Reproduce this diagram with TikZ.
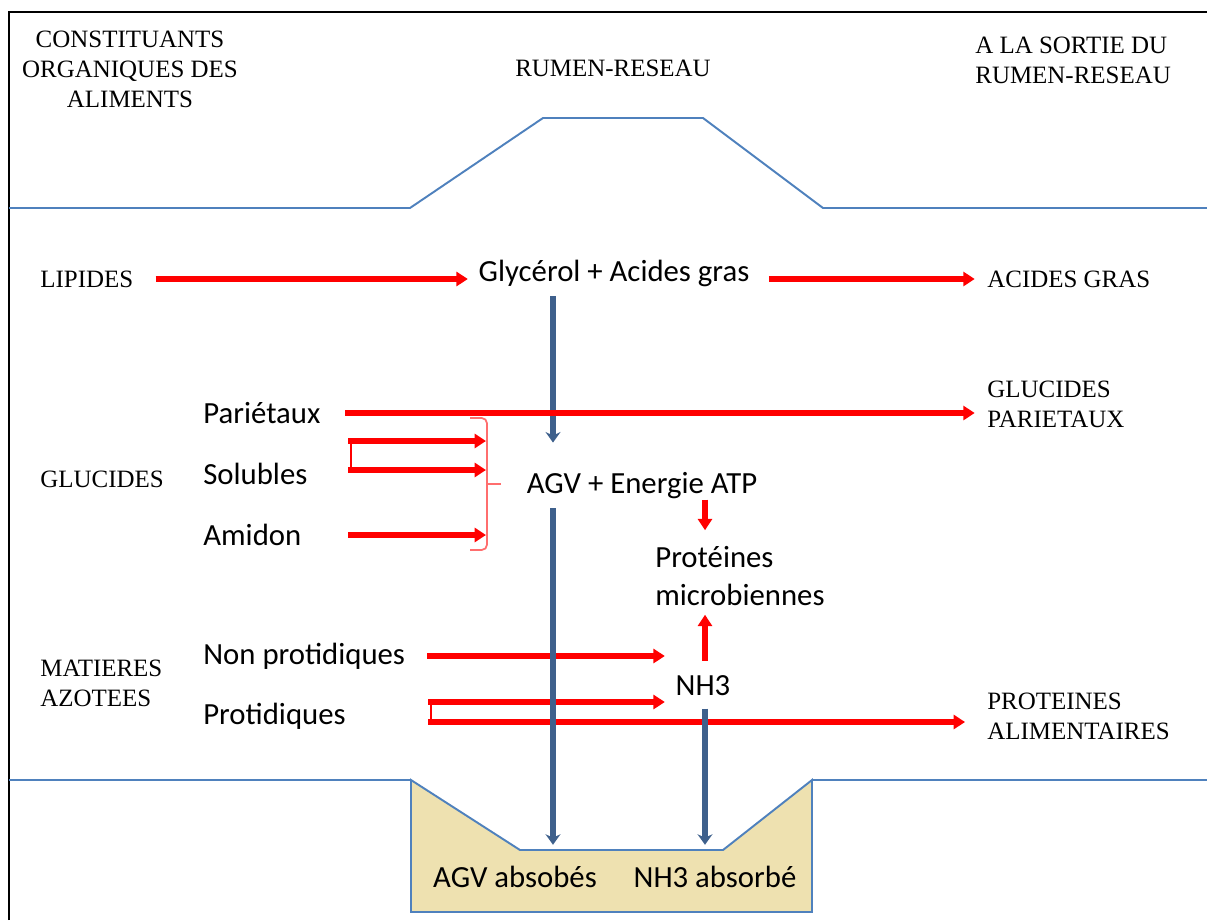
\documentclass[tikz,border=0pt]{standalone}
\usepackage{fontspec}
\setmainfont{Liberation Serif}
\newfontfamily\calib{Carlito}
\usetikzlibrary{arrows.meta}
\definecolor{bordbleu}{RGB}{79,129,189}
\definecolor{flecbleu}{RGB}{62,96,140}
\definecolor{sable}{RGB}{238,225,176}
\definecolor{accol}{RGB}{255,110,110}
\begin{document}
\begin{tikzpicture}[x=0.02cm,y=-0.02cm,
	maj/.style={font=\fontsize{14.2}{17}\selectfont,inner sep=0pt,align=left},
	txt/.style={font=\calib\fontsize{17.5}{21.5}\selectfont,inner sep=0pt,align=left},
	rouge/.style={red,line width=3pt,-{Triangle[length=6.5pt,width=8pt]}},
	bleu/.style={flecbleu,line width=3.2pt,-{Stealth[length=6pt,width=8.5pt,inset=2pt]}},
	trait/.style={bordbleu,line width=1.1pt}]
	\useasboundingbox (0,0) rectangle (1207,920);
	% cadre et contour du rumen
	\draw[line width=1.1pt] (9,920) -- (9,12) -- (1207,12);
	\draw[trait] (9,208) -- (410,208) -- (543,118) -- (703,118) -- (823,208) -- (1207,208);
	\draw[trait] (9,780) -- (411,780);
	\draw[trait] (812,780) -- (1207,780);
	\filldraw[trait,fill=sable] (411,780) -- (520,850) -- (723,850) -- (812,780) -- (812,912) -- (411,912) -- cycle;
	% titres
	\node[maj,align=center] (ent) at (130,69) {CONSTITUANTS\\ORGANIQUES DES\\ALIMENTS};
	\node[maj] (rum) at (613,68) {RUMEN-RESEAU};
	\node[maj,anchor=west] (sor) at (975,60) {A LA SORTIE DU\\RUMEN-RESEAU};
	% colonne gauche
	\node[maj,anchor=west] (lip) at (40,279) {LIPIDES};
	\node[maj,anchor=west] (glu) at (40,479) {GLUCIDES};
	\node[maj,anchor=west] (maz) at (40,683) {MATIERES\\AZOTEES};
	\node[txt,anchor=west] (par) at (203,413) {Pariétaux};
	\node[txt,anchor=west] (sol) at (203,474) {Solubles};
	\node[txt,anchor=west] (ami) at (203,535) {Amidon};
	\node[txt,anchor=west] (npr) at (203,656) {Non protidiques};
	\node[txt,anchor=west] (prt) at (203,716) {Protidiques};
	% milieu
	\node[txt] (gly) at (614,273) {Glycérol + Acides gras};
	\node[txt] (agv) at (642,486) {AGV + Energie ATP};
	\node[txt,anchor=west] (pro) at (655,576) {Protéines\\microbiennes};
	\node[txt] (nh3) at (703,686) {NH3};
	\node[txt] (aabs) at (515,877) {AGV absobés};
	\node[txt] (nabs) at (715,877) {NH3 absorbé};
	% sortie
	\node[maj,anchor=west] (acg) at (987,279) {ACIDES GRAS};
	\node[maj,anchor=west] (gpa) at (987,404) {GLUCIDES\\PARIETAUX};
	\node[maj,anchor=west] (pal) at (987,716) {PROTEINES\\ALIMENTAIRES};
	\coordinate (colA) at (553,0);
	\coordinate (colB) at (705,0);
	\coordinate (bsp) at (486,484);
	\coordinate (s1) at (348,441);
	\coordinate (s2) at (348,470);
	\coordinate (p1) at (428,702);
	\coordinate (p2) at (428,722);
	% fleches rouges
	\draw[rouge,shorten <=12.5pt,shorten >=6pt] (lip) -- (lip -| gly.west);
	\draw[rouge,shorten <=11pt,shorten >=7pt] (acg -| gly.east) -- (acg);
	\draw[rouge] (s1) -- (s1 -| bsp);
	\draw[rouge] (s2) -- (s2 -| bsp);
	\draw[red,line width=1pt] ([xshift=1.5pt]s1) -- ([xshift=1.5pt]s2);
	\draw[rouge,shorten <=26.5pt] (ami) -- (ami -| bsp);
	\draw[accol,line width=1pt,rounded corners=3pt] (470,418) -- (487,418) -- (487,550) -- (470,550);
	\draw[accol,line width=1pt] (487,484) -- (501,484);
	\draw[rouge,shorten >=9pt] (agv.south -| colB) -- (pro.north -| colB);
	\draw[rouge,shorten <=8.5pt,shorten >=5pt] (nh3.north -| colB) -- (pro.south -| colB);
	\draw[rouge,shorten <=12.5pt,shorten >=6pt] (npr) -- (npr -| nh3.west);
	\draw[rouge,shorten >=6pt] (p1) -- (p1 -| nh3.west);
	\draw[rouge,shorten >=12.5pt] (p2) -- (p2 -| pal.west);
	\draw[red,line width=1pt] ([xshift=1.5pt]p1) -- ([xshift=1.5pt]p2);
	% fleches bleues
	\draw[bleu,shorten <=5.5pt,shorten >=17pt] (gly.south -| colA) -- (agv.north -| colA);
	\draw[bleu,shorten <=5pt,shorten >=12pt] (agv.south -| colA) -- (aabs.north -| colA);
	\draw[bleu,shorten <=7pt,shorten >=12pt] (nh3.south -| colB) -- (nabs.north -| colB);
	\draw[rouge,shorten <=14pt,shorten >=7pt] (par) -- (par -| gpa.west);
\end{tikzpicture}
\end{document}
